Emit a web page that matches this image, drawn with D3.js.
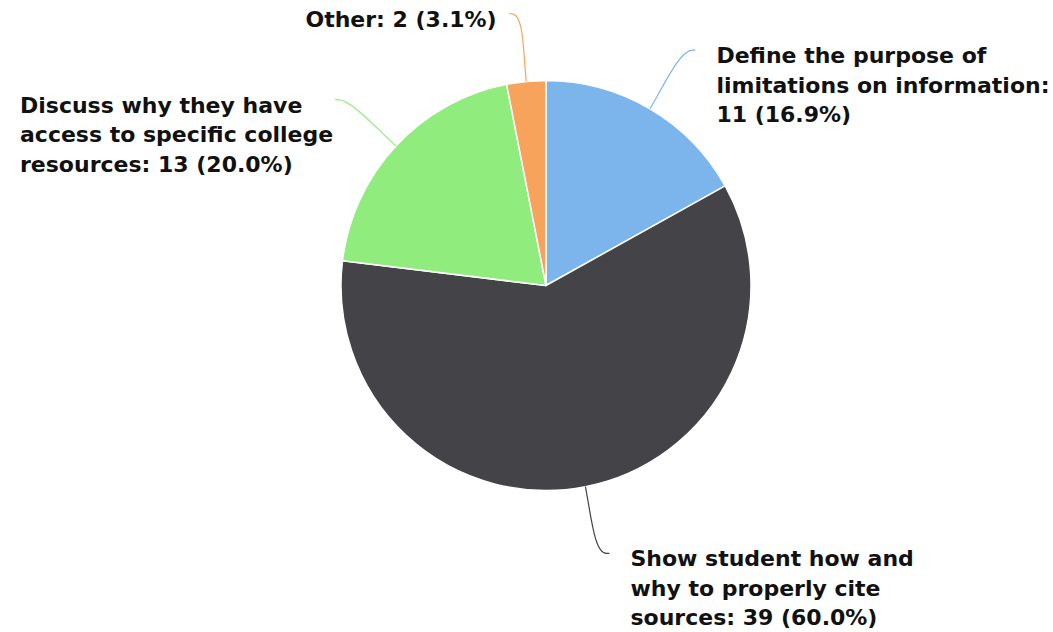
<!DOCTYPE html>
<html>
<head>
<meta charset="utf-8">
<script src="https://cdn.jsdelivr.net/npm/d3@7"></script>
<style>
    body { margin: 0; background: #fff; }
    #chart text { font-family: "DejaVu Sans", Verdana, sans-serif; font-weight: bold; fill: #111; }
</style>
</head>
<body>
<div id="chart"></div>
<script>

// survey answers, clockwise from 12 o'clock
let categories = [
    "Define the purpose of limitations on information",
    "Show student how and why to properly cite sources",
    "Discuss why they have access to specific college resources",
    "Other"
];
let counts = [11, 39, 13, 2];
let colors = ["#7cb5ec", "#434348", "#90ed7d", "#f7a35c"];

let width = 1053, height = 632;
let cx = 546, cy = 285.5, radius = 205;
let fontSize = 22, lineHeight = 29.5, wrapWidth = 337;
let labelDistance = 68, minLabelX = 20;

let svg = d3.select("#chart").append("svg")
    .attr("width", width)
    .attr("height", height);

let data = categories.map((c, i) => ({name: c, count: counts[i], color: colors[i]}));
let total = d3.sum(counts);

let pie = d3.pie()
    .value(d => d.count)
    .sort(null);

let arc = d3.arc()
    .innerRadius(0)
    .outerRadius(radius);

let arcs = pie(data);

let g = svg.append("g")
    .attr("transform", `translate(${cx}, ${cy})`);

// slices
g.selectAll(".slice")
    .data(arcs)
    .enter().append("path")
    .attr("class", "slice")
    .attr("d", arc)
    .attr("fill", d => d.data.color)
    .attr("stroke", "#fff")
    .attr("stroke-width", 1.5)
    .attr("stroke-linejoin", "round");

// point at angle a (radians from 12 o'clock, clockwise) and distance r
function polar(a, r) {
    return [r * Math.sin(a), -r * Math.cos(a)];
}

let labels = g.selectAll(".label")
    .data(arcs)
    .enter().append("g")
    .attr("class", "label");

labels.each(function(d) {
    let sel = d3.select(this);
    let mid = (d.startAngle + d.endAngle) / 2;
    let right = Math.sin(mid) >= 0;
    let side = right ? 1 : -1;

    let start = polar(mid, radius);
    let end = polar(mid, radius + labelDistance);
    end[0] += side * 8;

    // connector: leaves the slice radially, bends into the label horizontally
    let c1 = polar(mid, radius + 32);
    let c2 = [end[0] - side * 12, end[1]];
    sel.append("path")
        .attr("d", `M${start}C${c1} ${c2} ${end}L${end[0] + side * 3},${end[1]}`)
        .attr("fill", "none")
        .attr("stroke", d.data.color)
        .attr("stroke-width", 1.2);

    // label text, wrapped greedily
    let pct = (d.data.count / total * 100).toFixed(1);
    let words = `${d.data.name}: ${d.data.count} (${pct}%)`.split(" ");

    let text = sel.append("text")
        .style("font-size", fontSize + "px");

    let lines = [];
    let line = [];
    let probe = text.append("tspan");
    words.forEach(w => {
        line.push(w);
        probe.text(line.join(" "));
        if (probe.node().getComputedTextLength() > wrapWidth && line.length > 1) {
            line.pop();
            lines.push(line.join(" "));
            line = [w];
        }
    });
    lines.push(line.join(" "));
    probe.remove();

    let spans = text.selectAll("tspan")
        .data(lines)
        .enter().append("tspan")
        .attr("x", 0)
        .attr("y", (l, i) => i * lineHeight)
        .text(l => l);

    let blockWidth = d3.max(spans.nodes(), n => n.getComputedTextLength());
    let tx = right ? end[0] + 24 : end[0] - 15 - blockWidth;
    // keep labels inside the left edge of the chart
    tx = Math.max(tx, minLabelX - cx);
    text.attr("transform", `translate(${tx}, ${end[1] + 13})`);
});

</script>
</body>
</html>
